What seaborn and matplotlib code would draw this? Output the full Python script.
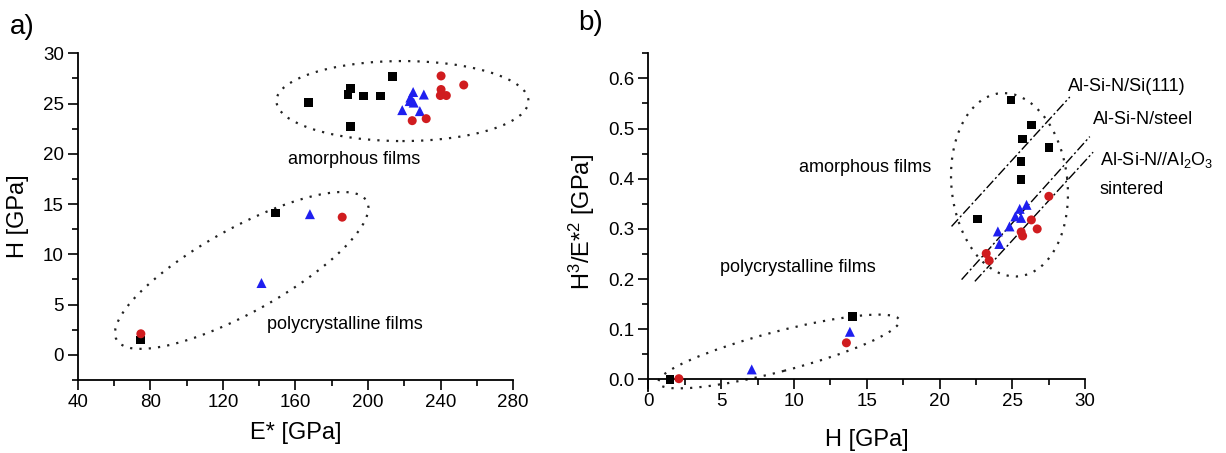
import numpy as np
import pandas as pd
import matplotlib
matplotlib.use('Agg')
import matplotlib.pyplot as plt
import seaborn as sns
from matplotlib.patches import Ellipse
from matplotlib.transforms import Affine2D
from matplotlib.ticker import MultipleLocator

# panel a) E* vs H
E_si = [167.1, 189.1, 190.4, 197.4, 206.9, 213.4, 190.4, 149.1, 74.5]
H_si = [25.1, 25.9, 26.5, 25.75, 25.75, 27.7, 22.7, 14.1, 1.5]
E_steel = [224.9, 230.8, 223.4, 223.0, 225.2, 218.9, 228.6, 168.0, 141.3]
H_steel = [26.15, 25.9, 25.6, 25.25, 25.1, 24.35, 24.25, 14.0, 7.15]
E_al2o3 = [240.3, 252.8, 240.3, 239.9, 243.2, 224.4, 232.1, 185.8, 74.8]
H_al2o3 = [27.75, 26.85, 26.4, 25.8, 25.8, 23.3, 23.5, 13.7, 2.1]

# panel b) H vs H^3/E*^2
Hb_si = [24.9, 26.3, 25.7, 27.5, 25.6, 25.6, 22.6, 14.03, 1.49]
R_si = [0.557, 0.507, 0.479, 0.462, 0.434, 0.398, 0.320, 0.125, 0.0]
Hb_steel = [25.97, 25.5, 25.2, 25.6, 24.8, 24.0, 24.1, 13.84, 7.1]
R_steel = [0.348, 0.340, 0.325, 0.322, 0.305, 0.295, 0.270, 0.095, 0.020]
Hb_al2o3 = [27.5, 26.3, 26.7, 25.6, 25.7, 23.2, 23.4, 13.6, 2.1]
R_al2o3 = [0.365, 0.318, 0.300, 0.294, 0.286, 0.251, 0.237, 0.073, 0.0015]

# dash-dot guide lines in panel b) (H start/end, ratio start/end)
guide_H = [[20.82, 28.94], [21.51, 30.31], [22.42, 30.54]]
guide_R = [[0.305, 0.563], [0.199, 0.484], [0.1955, 0.453]]

substrates = ['Al-Si-N/Si(111)', 'Al-Si-N/steel', 'Al-Si-N//Al2O3']
colors = {'Al-Si-N/Si(111)': '#000000', 'Al-Si-N/steel': '#1f1fef', 'Al-Si-N//Al2O3': '#d01c1f'}
markers = {'Al-Si-N/Si(111)': 's', 'Al-Si-N/steel': '^', 'Al-Si-N//Al2O3': 'o'}
sizes = {'Al-Si-N/Si(111)': 38, 'Al-Si-N/steel': 52, 'Al-Si-N//Al2O3': 42}

df_a = pd.DataFrame({
    'E': E_si + E_steel + E_al2o3,
    'H': H_si + H_steel + H_al2o3,
    'sub': [substrates[0]] * len(E_si) + [substrates[1]] * len(E_steel) + [substrates[2]] * len(E_al2o3),
})
df_b = pd.DataFrame({
    'H': Hb_si + Hb_steel + Hb_al2o3,
    'R': R_si + R_steel + R_al2o3,
    'sub': [substrates[0]] * len(Hb_si) + [substrates[1]] * len(Hb_steel) + [substrates[2]] * len(Hb_al2o3),
})

sns.set_style('ticks')
plt.rcParams['font.family'] = ['Liberation Sans', 'DejaVu Sans']
plt.rcParams['mathtext.fontset'] = 'custom'
plt.rcParams['mathtext.rm'] = 'Liberation Sans'
plt.rcParams['mathtext.it'] = 'Liberation Sans'
plt.rcParams['text.color'] = 'k'
plt.rcParams['axes.labelcolor'] = 'k'
plt.rcParams['xtick.color'] = 'k'
plt.rcParams['ytick.color'] = 'k'

fig = plt.figure(figsize=(12.26, 4.53), dpi=100)
ax1 = fig.add_axes([0.0634, 0.1611, 0.3551, 0.7212])
ax2 = fig.add_axes([0.5288, 0.1369, 0.3564, 0.7454])

for sub in substrates:
    sns.scatterplot(data=df_a[df_a['sub'] == sub], x='E', y='H', color=colors[sub],
                    marker=markers[sub], s=sizes[sub], edgecolor='none', ax=ax1, zorder=3, clip_on=False)
    sns.scatterplot(data=df_b[df_b['sub'] == sub], x='H', y='R', color=colors[sub],
                    marker=markers[sub], s=sizes[sub], edgecolor='none', ax=ax2, zorder=3, clip_on=False)

ax1.set_xlim(40, 280)
ax1.set_ylim(-2.5, 30)
ax2.set_xlim(0, 30)
ax2.set_ylim(-0.023, 0.65)


def dotted_ellipse(ax, cx, cy, a_px, b_px, angle):
    # ellipse sized in screen pixels, centred in data coords
    bb = ax.get_window_extent()
    x0, x1 = ax.get_xlim()
    y0, y1 = ax.get_ylim()
    sx = bb.width / (x1 - x0)
    sy = bb.height / (y1 - y0)
    e = Ellipse((cx * sx, cy * sy), 2 * a_px, 2 * b_px, angle=angle,
                transform=Affine2D().scale(1 / sx, 1 / sy) + ax.transData,
                fill=False, ec='#222222', lw=1.6, ls=(0, (1.0, 3.2)), clip_on=False, zorder=2)
    ax.add_patch(e)


dotted_ellipse(ax1, 219, 25.25, 126, 40, 0)
dotted_ellipse(ax1, 130.4, 8.4, 143, 42, 29)
dotted_ellipse(ax2, 24.8, 0.388, 92, 58, 96)
dotted_ellipse(ax2, 8.97, 0.0557, 124.5, 20, 14.6)

for gh, gr in zip(guide_H, guide_R):
    ax2.plot(gh, gr, color='k', lw=1.0, ls=(0, (7, 2, 1.5, 2)), clip_on=False, zorder=2)

# axes styling
for ax in (ax1, ax2):
    sns.despine(ax=ax)
    for s in ('left', 'bottom'):
        ax.spines[s].set_linewidth(1.3)
        ax.spines[s].set_color('k')
    ax.tick_params(which='major', length=7, width=1.2, labelsize=13.5, pad=3, color='k', labelcolor='k')
    ax.tick_params(which='minor', length=4, width=1.2, color='k')

ax2.spines['bottom'].set_position(('data', 0))

ax1.xaxis.set_major_locator(MultipleLocator(40))
ax1.xaxis.set_minor_locator(MultipleLocator(20))
ax1.set_yticks([0, 5, 10, 15, 20, 25, 30])
ax1.yaxis.set_minor_locator(MultipleLocator(2.5))

ax2.xaxis.set_major_locator(MultipleLocator(5))
ax2.xaxis.set_minor_locator(MultipleLocator(2.5))
ax2.set_yticks([0.0, 0.1, 0.2, 0.3, 0.4, 0.5, 0.6])
ax2.set_yticklabels(['0.0', '0.1', '0.2', '0.3', '0.4', '0.5', '0.6'])
ax2.yaxis.set_minor_locator(MultipleLocator(0.05))

ax1.set_xlabel('E* [GPa]', fontsize=17, labelpad=8)
ax1.set_ylabel('H [GPa]', fontsize=17, labelpad=10)
ax2.set_xlabel('H [GPa]', fontsize=17)
ax2.set_ylabel('H$^3$/E*$^2$ [GPa]', fontsize=17, labelpad=8)
ax2.xaxis.set_label_coords(0.5, -0.112)

ann = 13
ax1.text(192.6, 19.4, 'amorphous films', fontsize=ann, ha='center', va='center')
ax1.text(187.2, 3.0, 'polycrystalline films', fontsize=ann, ha='center', va='center')
ax2.text(14.87, 0.4216, 'amorphous films', fontsize=ann, ha='center', va='center')
ax2.text(10.27, 0.2228, 'polycrystalline films', fontsize=ann, ha='center', va='center')
ax2.text(28.8, 0.584, 'Al-Si-N/Si(111)', fontsize=ann, ha='left', va='center', clip_on=False)
ax2.text(30.5, 0.518, 'Al-Si-N/steel', fontsize=ann, ha='left', va='center', clip_on=False)
ax2.text(31.0, 0.438, 'Al-Si-N//Al$_2$O$_3$', fontsize=ann, ha='left', va='center', clip_on=False)
ax2.text(31.0, 0.378, 'sintered', fontsize=ann, ha='left', va='center', clip_on=False)

fig.text(0.008, 0.94, 'a)', fontsize=20, ha='left', va='center')
fig.text(0.472, 0.95, 'b)', fontsize=20, ha='left', va='center')

fig.savefig('out.png', dpi=100)
